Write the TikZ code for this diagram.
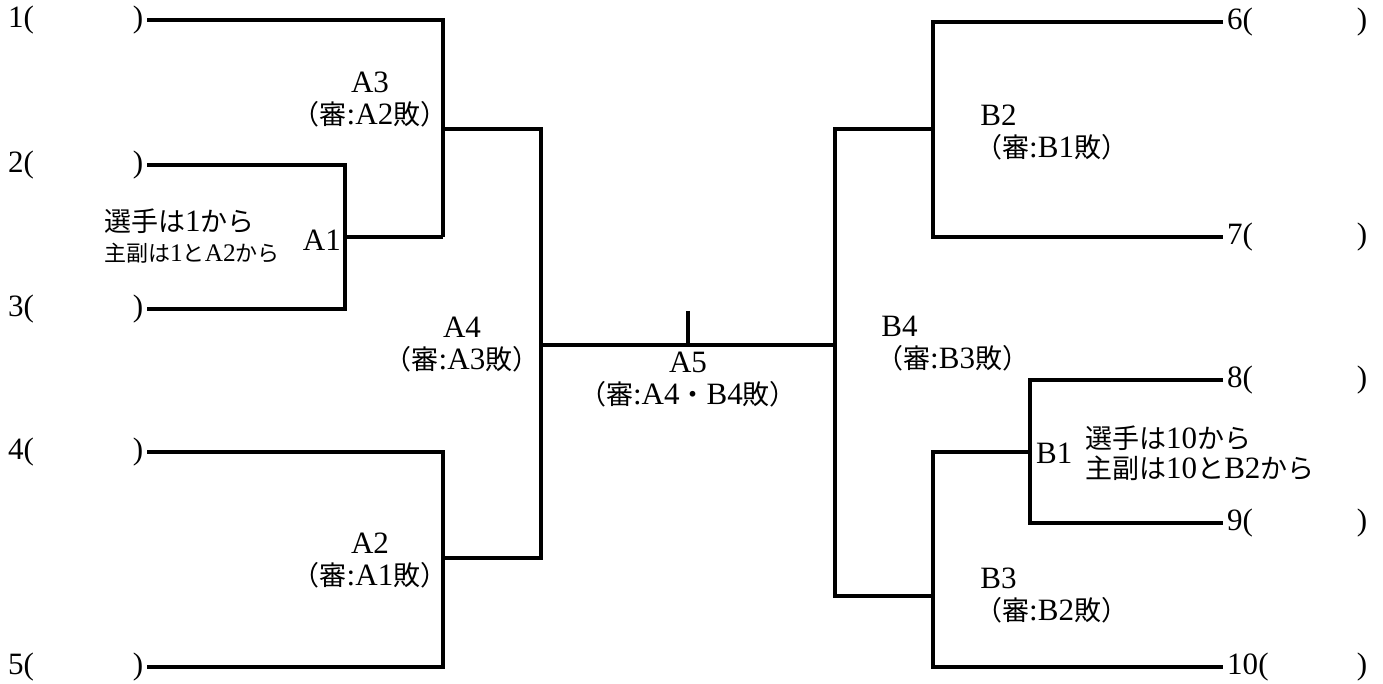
\documentclass[tikz,border=0pt]{standalone}
\usepackage{fontspec}
\setmainfont[Scale=1.15]{Liberation Serif}
\newfontfamily\jp{Noto Sans CJK JP}
\newcommand{\J}[1]{{\jp #1}}
\begin{document}
\begin{tikzpicture}[x=1pt,y=-1pt,
  br/.style={line width=3.2pt},
  txt/.style={inner sep=0pt, font=\fontsize{27}{32}\selectfont},
  plL/.style={txt, anchor=west},
  plR/.style={txt, anchor=west}
]
\useasboundingbox (0,0) rectangle (1383,684);
% players left
\node[plL] (p1) at (8,20) {\makebox[135pt][l]{1(\hfill)}};
\node[plL] (p2) at (8,165) {\makebox[135pt][l]{2(\hfill)}};
\node[plL] (p3) at (8,309) {\makebox[135pt][l]{3(\hfill)}};
\node[plL] (p4) at (8,452) {\makebox[135pt][l]{4(\hfill)}};
\node[plL] (p5) at (8,667) {\makebox[135pt][l]{5(\hfill)}};
% players right
\node[plR] (p6) at (1227,22) {\makebox[140pt][l]{6(\hfill)}};
\node[plR] (p7) at (1227,237) {\makebox[140pt][l]{7(\hfill)}};
\node[plR] (p8) at (1227,380) {\makebox[140pt][l]{8(\hfill)}};
\node[plR] (p9) at (1227,523) {\makebox[140pt][l]{9(\hfill)}};
\node[plR] (p10) at (1227,667) {\makebox[140pt][l]{10(\hfill)}};
% junction coordinates
\coordinate (a1x) at (345,237);
\coordinate (a3x) at (443,237);
\coordinate (a3o) at (443,129);
\coordinate (a2x) at (443,558);
\coordinate (a4x) at (541,345);
\coordinate (b4x) at (835,345);
\coordinate (a5t) at (688,311);
\coordinate (a5b) at (688,345);
\coordinate (b2o) at (933,129);
\coordinate (b3o) at (933,596);
\coordinate (b1o) at (933,452);
\coordinate (b1x) at (1030,452);
% left bracket
\draw[br] ([xshift=4pt]p1.east) -| (a3x);
\draw[br] ([xshift=4pt]p2.east) -| (a1x) |- ([xshift=4pt]p3.east);
\draw[br] (a1x) -- (a3x);
\draw[br] ([xshift=4pt]p4.east) -| (a2x) |- ([xshift=4pt]p5.east);
\draw[br] (a3o) -| (a4x) |- (a2x);
% final
\draw[br] (a4x) -- (b4x);
\draw[br] (a5t) -- (a5b);
% right bracket
\draw[br] (b2o) -| (b4x) |- (b3o);
\draw[br] ([xshift=-4pt]p6.west) -| (b2o) |- ([xshift=-4pt]p7.west);
\draw[br] ([xshift=-4pt]p8.west) -| (b1x) |- ([xshift=-4pt]p9.west);
\draw[br] (b1x) -- (b1o) |- ([xshift=-4pt]p10.west);
% labels
\node[txt, align=center] (la3) at (370,100) {A3\\\J{（審}:A2\J{敗）}};
\node[txt, anchor=east] (la1) at (341,240) {A1};
\node[txt, anchor=west, align=left] (na1) at (104,236) {\J{選手は}1\J{から}\\[-2pt]{\fontsize{22}{26}\selectfont\J{主副は}1\J{と}A2\J{から}}};
\node[txt, align=center] (la4) at (462,345) {A4\\\J{（審}:A3\J{敗）}};
\node[txt, align=center] (la5) at (688,380) {A5\\\J{（審}:A4\J{・}B4\J{敗）}};
\node[txt, align=center] (la2) at (370,561) {A2\\\J{（審}:A1\J{敗）}};
\node[txt, anchor=west, align=left] (lb2) at (975,133) {\,B2\\\J{（審}:B1\J{敗）}};
\node[txt, anchor=west, align=left] (lb4) at (876,344) {\,B4\\\J{（審}:B3\J{敗）}};
\node[txt, anchor=west, align=left] (lb3) at (975,596) {\,B3\\\J{（審}:B2\J{敗）}};
\node[txt, anchor=west] (lb1) at (1036,453) {B1};
\node[txt, anchor=west, align=left] (nb1) at (1085,453) {\J{選手は}10\J{から}\\[-2pt]\J{主副は}10\J{と}B2\J{から}};
\end{tikzpicture}
\end{document}
